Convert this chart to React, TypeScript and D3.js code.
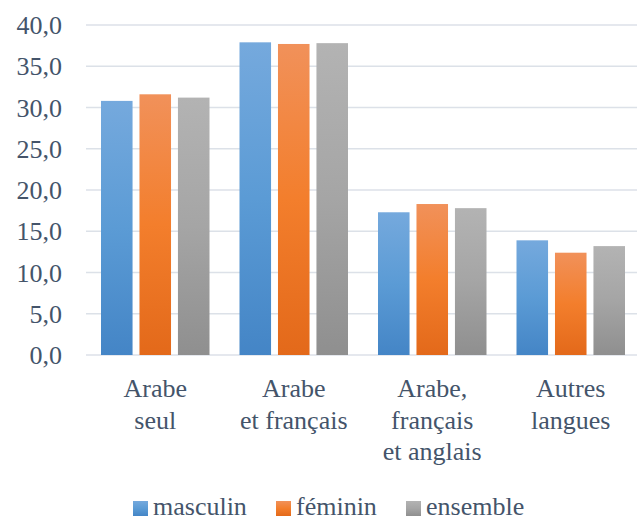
import React, { useEffect, useRef } from "react";
import * as d3 from "d3";

const categories: string[][] = [
  ["Arabe", "seul"],
  ["Arabe", "et français"],
  ["Arabe,", "français", "et anglais"],
  ["Autres", "langues"],
];
const seriesNames = ["masculin", "féminin", "ensemble"];
const masculin = [30.8, 37.9, 17.3, 13.9];
const feminin = [31.6, 37.7, 18.3, 12.4];
const ensemble = [31.2, 37.8, 17.8, 13.2];
const yTicks = [0, 5, 10, 15, 20, 25, 30, 35, 40];

const seriesValues = [masculin, feminin, ensemble];
const gradients = [
  ["#75A9DD", "#5B9BD5", "#4485C6"],
  ["#F1915A", "#F37E2C", "#E3691A"],
  ["#B3B3B3", "#A5A5A5", "#8F8F8F"],
];

const W = 638;
const H = 518;
const left = 86;
const right = 640;
const top = 25;
const bottom = 355;
const textColor = "#44546A";
const font = '"Liberation Serif", "Times New Roman", Tinos, serif';

export default function App() {
  const ref = useRef<SVGSVGElement>(null);

  useEffect(() => {
    const svg = d3.select(ref.current);
    svg.selectAll("*").remove();
    const bandStep = (right - left) / categories.length;
    const x0 = d3.scaleBand<number>().domain(d3.range(categories.length)).range([left, right]);
    const inner = d3
      .scaleBand<number>()
      .domain(d3.range(3))
      .range([15, bandStep - 15])
      .paddingInner(0.18);
    const y = d3.scaleLinear().domain([0, 40]).range([bottom, top]);
    const fmt = (v: number) => v.toFixed(1).replace(".", ",");

    const defs = svg.append("defs");
    gradients.forEach((g, i) => {
      const lg = defs
        .append("linearGradient")
        .attr("id", `g${i}`)
        .attr("x1", 0)
        .attr("y1", 0)
        .attr("x2", 0)
        .attr("y2", 1);
      lg.append("stop").attr("offset", 0).attr("stop-color", g[0]);
      lg.append("stop").attr("offset", 0.5).attr("stop-color", g[1]);
      lg.append("stop").attr("offset", 1).attr("stop-color", g[2]);
    });

    const grid = svg.append("g");
    yTicks.forEach((t) => {
      grid
        .append("line")
        .attr("x1", left)
        .attr("x2", 637)
        .attr("y1", y(t))
        .attr("y2", y(t))
        .attr("stroke", "#DCE1E8")
        .attr("stroke-width", 1.5);
      grid
        .append("text")
        .attr("x", 62)
        .attr("y", y(t))
        .attr("dy", "0.35em")
        .attr("text-anchor", "end")
        .style("font-family", font)
        .style("font-size", "26px")
        .attr("fill", textColor)
        .text(fmt(t));
    });

    categories.forEach((c, ci) => {
      seriesValues.forEach((vals, si) => {
        svg
          .append("rect")
          .attr("x", (x0(ci) as number) + (inner(si) as number))
          .attr("y", y(vals[ci]))
          .attr("width", inner.bandwidth())
          .attr("height", y(0) - y(vals[ci]))
          .attr("fill", `url(#g${si})`);
      });
      const tx = svg
        .append("text")
        .attr("text-anchor", "middle")
        .style("font-family", font)
        .style("font-size", "26px")
        .attr("fill", textColor);
      c.forEach((line, li) => {
        tx.append("tspan")
          .attr("x", (x0(ci) as number) + bandStep / 2)
          .attr("y", 397 + li * 31.5)
          .text(line);
      });
    });

    const lxs = [133, 276, 406];
    seriesNames.forEach((n, si) => {
      svg
        .append("rect")
        .attr("x", lxs[si])
        .attr("y", 501)
        .attr("width", 15)
        .attr("height", 15)
        .attr("fill", `url(#g${si})`);
      svg
        .append("text")
        .attr("x", lxs[si] + 20)
        .attr("y", 515)
        .style("font-family", font)
        .style("font-size", "26px")
        .attr("fill", textColor)
        .text(n);
    });
  }, []);

  return (
    <svg
      ref={ref}
      width={W}
      height={H}
      style={{ position: "absolute", left: 0, top: 0, background: "#fff" }}
    />
  );
}
